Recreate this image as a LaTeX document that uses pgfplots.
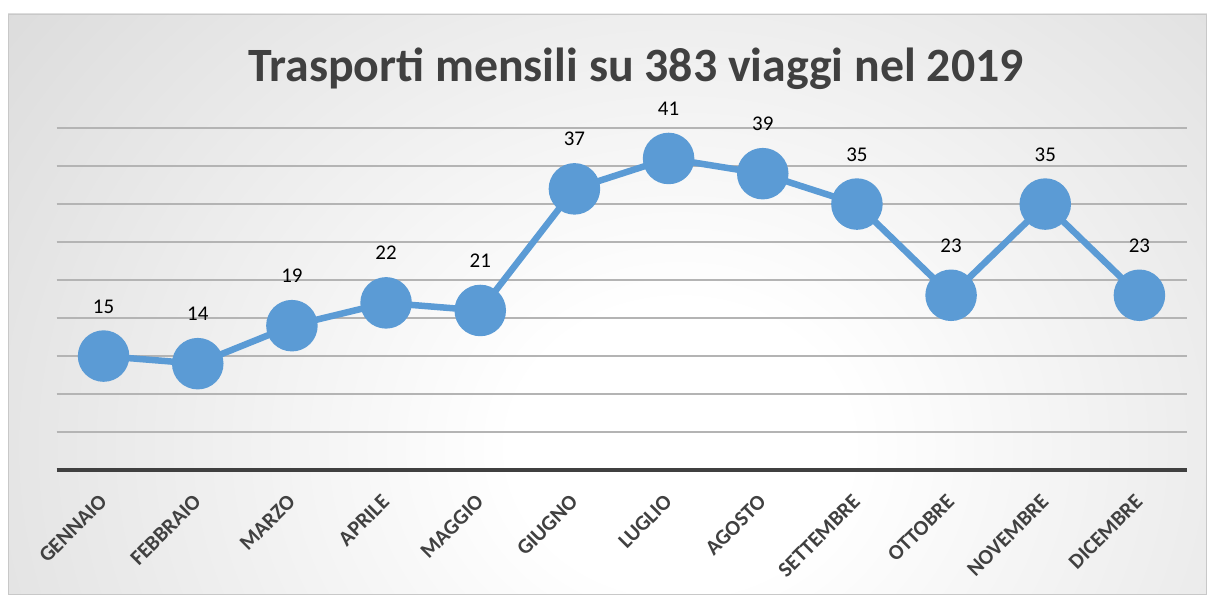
\documentclass[border=0pt]{standalone}
\usepackage{fontspec}
\setmainfont{Carlito}
\usepackage{pgfplots}
\pgfplotsset{compat=1.18}
\definecolor{lineblue}{HTML}{5B9BD5}
\definecolor{gridgray}{HTML}{B4B4B4}
\definecolor{axisgray}{HTML}{404040}
\definecolor{labelgray}{HTML}{404040}
\definecolor{titlegray}{HTML}{404040}
\definecolor{bggray}{HTML}{C8C8C8}
\definecolor{bgdark}{HTML}{BEBEBE}
\definecolor{bordergray}{HTML}{C8C8C8}
\pgfdeclareradialshading{bgshade}{\pgfpoint{0bp}{0bp}}{color(0bp)=(white); color(6bp)=(white); color(44bp)=(bggray); color(62bp)=(bgdark); color(100bp)=(bgdark)}
\begin{document}
\begin{tikzpicture}[x=1bp,y=1bp]
\useasboundingbox (0,0) rectangle (1207,597);
\begin{scope}
\clip (8,2) rectangle (1207,583);
\shade[shading=bgshade] (-20,-450) rectangle (1380,750);
\end{scope}
\draw[bordergray, line width=1bp] (8.5,2.5) rectangle (1206.5,582.5);
\begin{axis}[
  at={(60,167)}, anchor=south west,
  scale only axis, width=1130bp, height=342bp,
  xmin=-0.5, xmax=11.5, ymin=0, ymax=45,
  clip=false,
  /pgf/number format/assume math mode=true,
  axis x line*=bottom, axis y line*=left,
  x axis line style={-, line width=4bp, color=axisgray},
  y axis line style={draw=none},
  ytick={5,10,...,45}, yticklabels={}, ytick style={draw=none},
  ymajorgrids, grid style={gridgray, line width=1.3bp},
  xtick={0,...,11}, xtick style={draw=none},
  xticklabels={GENNAIO,FEBBRAIO,MARZO,APRILE,MAGGIO,GIUGNO,LUGLIO,AGOSTO,SETTEMBRE,OTTOBRE,NOVEMBRE,DICEMBRE},
  xticklabel style={xshift=2bp, yshift=-26bp, rotate=45, anchor=east, font=\bfseries\fontsize{21.5}{21.5}\selectfont, text=labelgray},
  nodes near coords,
  nodes near coords style={font=\fontsize{21}{21}\selectfont, anchor=base, yshift=43bp, text=black},
]
\addplot[color=lineblue, line width=6.5bp, mark=*, mark size=22.5bp, mark options={draw=none, fill=lineblue}]
coordinates {(0,15) (1,14) (2,19) (3,22) (4,21) (5,37) (6,41) (7,39) (8,35) (9,23) (10,35) (11,23)};
\end{axis}
\node[font=\bfseries\fontsize{48}{48}\selectfont, text=titlegray, anchor=base] at (636,515) {Trasporti mensili su 383 viaggi nel 2019};
\end{tikzpicture}
\end{document}
